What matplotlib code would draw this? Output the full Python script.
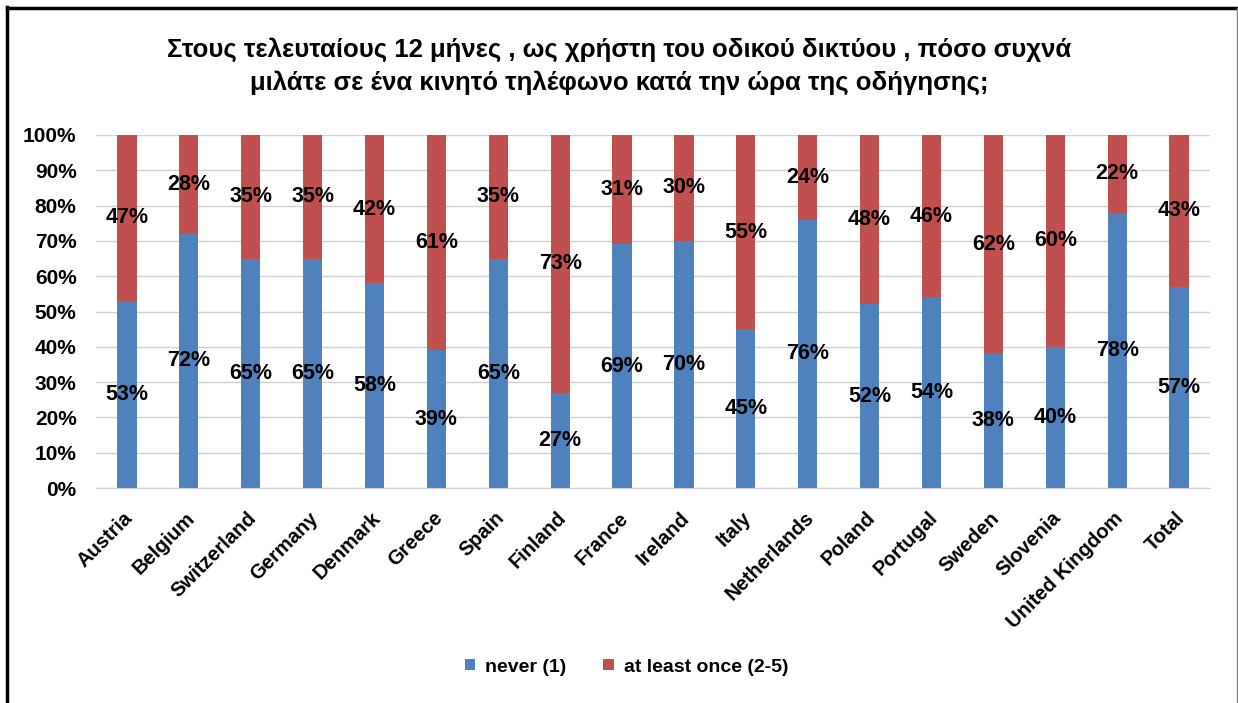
import matplotlib
matplotlib.use("Agg")
import matplotlib.pyplot as plt
from matplotlib import font_manager as fm
from matplotlib import transforms
from matplotlib.lines import Line2D
import numpy as np

countries = ["Austria", "Belgium", "Switzerland", "Germany", "Denmark", "Greece",
             "Spain", "Finland", "France", "Ireland", "Italy", "Netherlands",
             "Poland", "Portugal", "Sweden", "Slovenia", "United Kingdom", "Total"]
never = [53, 72, 65, 65, 58, 39, 65, 27, 69, 70, 45, 76, 52, 54, 38, 40, 78, 57]
at_least_once = [47, 28, 35, 35, 42, 61, 35, 73, 31, 30, 55, 24, 48, 46, 62, 60, 22, 43]
yticks = [0, 10, 20, 30, 40, 50, 60, 70, 80, 90, 100]

title = ("Στους τελευταίους 12 μήνες , ως χρήστη του οδικού δικτύου , πόσο συχνά\n"
         "μιλάτε σε ένα κινητό τηλέφωνο κατά την ώρα της οδήγησης;")

blue = "#4F81BD"
red = "#C0504D"

installed = {f.name for f in fm.fontManager.ttflist}
font = "Liberation Sans Narrow" if "Liberation Sans Narrow" in installed else "Liberation Sans"
plt.rcParams["font.family"] = [font, "DejaVu Sans"]
plt.rcParams["font.weight"] = "bold"

fig = plt.figure(figsize=(12.38, 7.03), dpi=100)
ax = fig.add_axes([96 / 1238, 1 - 488 / 703, 1114 / 1238, 353 / 703])

x = np.arange(len(countries))
w = 0.31
b1 = ax.bar(x, never, w, color=blue, label="never (1)", zorder=2)
b2 = ax.bar(x, at_least_once, w, bottom=never, color=red, label="at least once (2-5)", zorder=2)

for i in range(len(countries)):
    ax.text(x[i], never[i] / 2, f"{never[i]}%", ha="center", va="center",
            fontsize=15.5, fontweight="bold", zorder=3)
    ax.text(x[i], never[i] + at_least_once[i] / 2, f"{at_least_once[i]}%",
            ha="center", va="center", fontsize=15.5, fontweight="bold", zorder=3)

ax.set_xlim(-0.5, len(countries) - 0.5)
ax.set_ylim(0, 100)
ax.set_yticks(yticks)
ax.set_yticklabels([f"{v}%" for v in yticks], fontsize=15, fontweight="bold")
ax.set_xticks(x)
ax.set_xticklabels([])
ax.tick_params(axis="both", length=0)
ax.tick_params(axis="y", pad=14)
ax.grid(axis="y", color="#d0d0d0", linewidth=1, zorder=0)
for s in ["top", "right", "left"]:
    ax.spines[s].set_visible(False)
ax.spines["bottom"].set_color("#d0d0d0")

# rotated category labels, right end just below each bar
shift = transforms.ScaledTranslation(3 / 100, -27 / 100, fig.dpi_scale_trans)
for i, name in enumerate(countries):
    ax.text(x[i], 0, name, transform=ax.get_xaxis_transform() + shift,
            rotation=45, ha="right", va="center", rotation_mode="anchor",
            fontsize=14.5, fontweight="bold")

fig.text(0.5, 1 - 66 / 703, title, ha="center", va="center", fontsize=18.5,
         fontweight="bold", linespacing=1.45)

fig.legend(handles=[b1, b2], loc="center", bbox_to_anchor=(0.506, 1 - 667 / 703),
           ncol=2, frameon=False, handlelength=0.55, handleheight=0.55,
           handletextpad=0.5, columnspacing=1.9, prop={"weight": "bold", "size": 14})

# chart border
fig.add_artist(Line2D([7 / 1238, 7 / 1238], [0, 1 - 7 / 703], color="black", lw=2.5,
                      transform=fig.transFigure))
fig.add_artist(Line2D([7 / 1238, 1237 / 1238], [1 - 8 / 703, 1 - 8 / 703], color="black",
                      lw=2.5, transform=fig.transFigure))
fig.add_artist(Line2D([1236.5 / 1238, 1236.5 / 1238], [0, 1 - 8 / 703], color="#808080",
                      lw=1, transform=fig.transFigure))

fig.savefig("out.png", dpi=100)
